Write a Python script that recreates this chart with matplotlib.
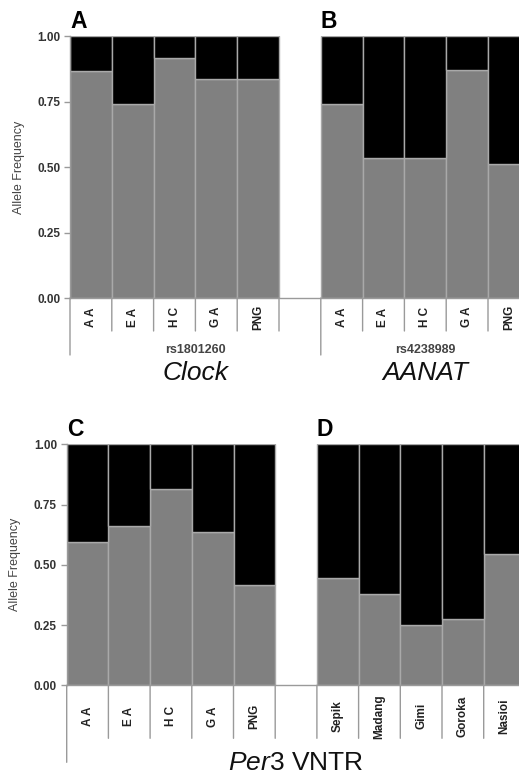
import matplotlib
matplotlib.use("Agg")
from matplotlib import pyplot as plt
from matplotlib import transforms

plt.rcParams['font.family'] = ['Liberation Sans', 'DejaVu Sans']
plt.rcParams['mathtext.fontset'] = 'custom'
plt.rcParams['mathtext.it'] = 'Liberation Sans:italic'
plt.rcParams['mathtext.rm'] = 'Liberation Sans'

# frequencia do alelo maioritario (parte cinzenta); o resto e o alelo minoritario
pops = ["A A", "E A", "H C", "G A", "PNG"]
png_pops = ["Sepik", "Madang", "Gimi", "Goroka", "Nasioi"]

clock_freq = [0.866, 0.740, 0.916, 0.837, 0.837]
aanat_freq = [0.740, 0.533, 0.533, 0.871, 0.511]
per3_freq = [0.595, 0.662, 0.815, 0.637, 0.416]
per3_png_freq = [0.445, 0.379, 0.251, 0.275, 0.546]

CINZA = "#808080"
PRETO = "#000000"
BORDA = "#a9a9a9"
LINHA = "#9a9a9a"

fig = plt.figure(figsize=(5.19, 7.77), dpi=100)
W, H = 519, 777


def abaixo(ax, px):
    # x em dados, y em pixels abaixo do eixo (negativo = acima do topo)
    base = transforms.blended_transform_factory(ax.transData, ax.transAxes)
    return base + transforms.ScaledTranslation(0, -px / 100, fig.dpi_scale_trans)


def acima(ax):
    base = transforms.blended_transform_factory(ax.transData, ax.transAxes)
    return base + transforms.ScaledTranslation(0, 0.03, fig.dpi_scale_trans)


def desenhaPainel(ax, freqs, labels, sep_len, longas, lab_off):
    xs = []
    vals = []
    nomes = []
    for i in range(len(freqs)):
        if freqs[i] is None:
            continue
        xs.append(i)
        vals.append(freqs[i])
        nomes.append(labels[i])
    topo = [1 - v for v in vals]
    ax.bar(xs, vals, width=1.0, color=CINZA, edgecolor=BORDA, linewidth=1.0)
    ax.bar(xs, topo, bottom=vals, width=1.0, color=PRETO, edgecolor=BORDA, linewidth=1.0)
    ax.set_xlim(-0.5, 10.5)
    ax.set_ylim(0, 1)
    ax.set_xticks([])
    ax.set_yticks([0, 0.25, 0.5, 0.75, 1.0])
    ax.set_yticklabels(["0.00", "0.25", "0.50", "0.75", "1.00"], fontsize=8.5,
                       fontweight="bold", color="#333333")
    ax.tick_params(axis="y", length=4, width=1, color=LINHA, pad=3)
    for s in ["top", "right"]:
        ax.spines[s].set_visible(False)
    for s in ["left", "bottom"]:
        ax.spines[s].set_color(LINHA)
        ax.spines[s].set_linewidth(1)
    ax.set_ylabel("Allele Frequency", fontsize=9, color="#444444", labelpad=9)

    for x, nome in zip(xs, nomes):
        ax.text(x, 0, nome, rotation=90, ha="center", va="center", fontsize=8.5,
                fontweight="bold", color="#222222", transform=abaixo(ax, lab_off))

    # divisorias verticais por baixo do eixo
    for k in range(11):
        b = k - 0.5
        comp = longas.get(b, sep_len)
        ax.annotate("", xy=(b, 0), xycoords=abaixo(ax, comp), xytext=(b, 0),
                    textcoords=abaixo(ax, 0),
                    arrowprops=dict(arrowstyle="-", color=LINHA, lw=1,
                                    shrinkA=0, shrinkB=0))


# painel de cima: Clock e AANAT
ax1 = fig.add_axes([70 / W, (H - 298) / H, 11 * 41.8 / W, 262 / H])
top_freq = clock_freq + [None] + aanat_freq
top_lab = pops + [""] + pops
desenhaPainel(ax1, top_freq, top_lab, 33, {-0.5: 57, 5.5: 57}, 19)
ax1.text(2.5, 0, "rs1801260", ha="center", va="center", fontsize=9,
         fontweight="bold", color="#444444", transform=abaixo(ax1, 52))
ax1.text(8, 0, "rs4238989", ha="center", va="center", fontsize=9,
         fontweight="bold", color="#444444", transform=abaixo(ax1, 52))
ax1.text(2.5, 0, "Clock", ha="center", va="center", fontsize=19,
         style="italic", color="#111111", transform=abaixo(ax1, 75))
ax1.text(8, 0, "AANAT", ha="center", va="center", fontsize=19,
         style="italic", color="#111111", transform=abaixo(ax1, 75))
ax1.text(-0.5, 1, "A", ha="left", va="bottom", fontsize=16.5, fontweight="bold",
         transform=acima(ax1))
ax1.text(5.5, 1, "B", ha="left", va="bottom", fontsize=16.5, fontweight="bold",
         transform=acima(ax1))

# painel de baixo: Per3 VNTR
ax2 = fig.add_axes([66.7 / W, (H - 685.3) / H, 11 * 41.7 / W, 241 / H])
bot_freq = per3_freq + [None] + per3_png_freq
bot_lab = pops + [""] + png_pops
desenhaPainel(ax2, bot_freq, bot_lab, 53, {-0.5: 77}, 31)
ax2.text(5, 0, r"$\mathit{Per3}$ VNTR", ha="center", va="center", fontsize=19,
         color="#111111", transform=abaixo(ax2, 78))
ax2.text(-0.5, 1, "C", ha="left", va="bottom", fontsize=16.5, fontweight="bold",
         transform=acima(ax2))
ax2.text(5.5, 1, "D", ha="left", va="bottom", fontsize=16.5, fontweight="bold",
         transform=acima(ax2))

plt.savefig("out.png", dpi=100)
